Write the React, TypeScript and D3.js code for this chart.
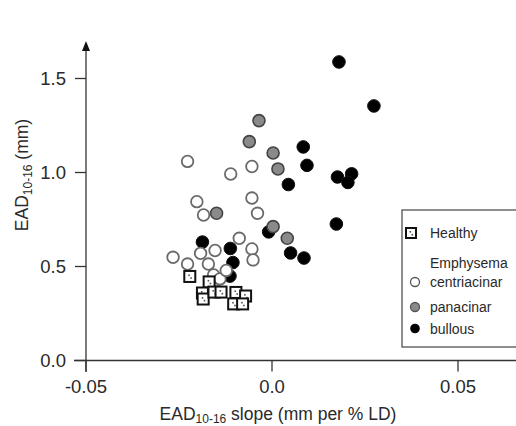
import React from "react";
import * as d3 from "d3";

const healthyX = [-0.0221, -0.0169, -0.0187, -0.0185, -0.0156, -0.0137, -0.0097, -0.0071, -0.0103, -0.0079];
const healthyY = [0.447, 0.418, 0.359, 0.327, 0.364, 0.364, 0.362, 0.343, 0.301, 0.301];

const centriX = [-0.0227, -0.0111, -0.0054, -0.0202, -0.0184, -0.0054, -0.0039, -0.0088, -0.0054, -0.0051, -0.0266, -0.0227, -0.0192, -0.0153, -0.0171, -0.0157, -0.014, -0.0123];
const centriY = [1.059, 0.992, 1.032, 0.845, 0.774, 0.864, 0.783, 0.65, 0.593, 0.535, 0.549, 0.513, 0.57, 0.585, 0.513, 0.455, 0.434, 0.479];

const panX = [-0.0035, -0.0061, 0.0003, 0.0016, -0.0149, 0.0003, 0.0041];
const panY = [1.276, 1.164, 1.104, 1.019, 0.783, 0.712, 0.65];

const bullX = [0.018, 0.0274, 0.0084, 0.0094, 0.0044, 0.0176, 0.0214, 0.0204, 0.0173, -0.0009, 0.005, 0.0086, -0.0187, -0.0112, -0.0105, -0.0113];
const bullY = [1.588, 1.354, 1.136, 1.038, 0.936, 0.976, 0.993, 0.947, 0.726, 0.684, 0.572, 0.545, 0.63, 0.596, 0.521, 0.449];

const xTicks = [-0.05, 0.0, 0.05];
const xTickLabels = ["-0.05", "0.0", "0.05"];
const yTicks = [0.0, 0.5, 1.0, 1.5];
const yTickLabels = ["0.0", "0.5", "1.0", "1.5"];

const legendLabels = ["Healthy", "Emphysema", "centriacinar", "panacinar", "bullous"];

const W = 516;
const H = 426;
const FONT = "'Liberation Sans', Arial, sans-serif";

export default function App() {
  const x = d3.scaleLinear().domain([-0.05, 0.05]).range([86, 458]);
  const y = d3.scaleLinear().domain([0, 1.5]).range([360.5, 78.5]);
  const x0 = x(-0.05);
  const y0 = y(0);
  const zip = (xs: number[], ys: number[]) => xs.map((v, i) => [v, ys[i]] as [number, number]);

  const axisColor = "#333";
  const textColor = "#2a2a2a";

  return (
    <svg width={W} height={H} style={{ position: "absolute", left: 0, top: 0, background: "#fff" }} fontFamily={FONT}>
      <rect x={0} y={0} width={W} height={H} fill="#fff" />
      {/* axes */}
      <line x1={x0} x2={x0} y1={46} y2={372} stroke={axisColor} strokeWidth={1.3} />
      <path d={`M${x0},41 L${x0 - 4},51 L${x0 + 4},51 Z`} fill="#111" />
      <line x1={74} x2={W} y1={y0} y2={y0} stroke={axisColor} strokeWidth={1.3} />
      {yTicks.map((t, i) => (
        <g key={"yt" + i}>
          <line x1={x0 - 11} x2={x0} y1={y(t)} y2={y(t)} stroke={axisColor} strokeWidth={1.3} />
          <text x={x0 - 20} y={y(t) + 6.6} textAnchor="end" fontSize={18.5} fill={textColor}>{yTickLabels[i]}</text>
        </g>
      ))}
      {xTicks.map((t, i) => (
        <g key={"xt" + i}>
          <line x1={x(t)} x2={x(t)} y1={y0} y2={y0 + 11} stroke={axisColor} strokeWidth={1.3} />
          <text x={x(t)} y={392.5} textAnchor="middle" fontSize={18.5} fill={textColor}>{xTickLabels[i]}</text>
        </g>
      ))}
      {/* axis titles */}
      <text x={278} y={419.5} textAnchor="middle" fontSize={17.5} fill={textColor}>
        EAD<tspan fontSize={12} dy={3.5}>10-16</tspan><tspan dy={-3.5}> slope (mm per % LD)</tspan>
      </text>
      <text transform={`translate(27.5,175) rotate(-90)`} textAnchor="middle" fontSize={17.5} fill={textColor}>
        EAD<tspan fontSize={12} dy={4}>10-16</tspan><tspan dy={-4}> (mm)</tspan>
      </text>

      {/* bullous */}
      {zip(bullX, bullY).map(([a, b], i) => (
        <circle key={"b" + i} cx={x(a)} cy={y(b)} r={6.3} fill="#000" stroke="#111" strokeWidth={1} />
      ))}
      {/* panacinar */}
      {zip(panX, panY).map(([a, b], i) => (
        <circle key={"p" + i} cx={x(a)} cy={y(b)} r={6} fill="#8a8a8a" stroke="#444" strokeWidth={1.6} />
      ))}
      {/* centriacinar */}
      {zip(centriX, centriY).map(([a, b], i) => (
        <circle key={"c" + i} cx={x(a)} cy={y(b)} r={5.8} fill="#fff" stroke="#6a6a6a" strokeWidth={1.8} />
      ))}
      {/* healthy */}
      {zip(healthyX, healthyY).map(([a, b], i) => (
        <g key={"h" + i}>
          <rect x={x(a) - 5.5} y={y(b) - 5.5} width={11} height={11} fill="#fff" stroke="#111" strokeWidth={2} />
          <rect x={x(a) - 1.5} y={y(b) - 2} width={1.6} height={1.6} fill="#555" />
          <rect x={x(a) + 0.5} y={y(b) + 0.8} width={1.6} height={1.6} fill="#555" />
        </g>
      ))}

      {/* legend */}
      <rect x={402} y={210} width={130} height={137} fill="#fff" stroke="#444" strokeWidth={1.2} />
      <rect x={406} y={228} width={10} height={10} fill="#fff" stroke="#111" strokeWidth={2} />
      <rect x={409.5} y={231} width={1.6} height={1.6} fill="#555" />
      <rect x={411.5} y={234} width={1.6} height={1.6} fill="#555" />
      <text x={430} y={238} fontSize={14} fill={textColor}>{legendLabels[0]}</text>
      <text x={430} y={268} fontSize={14} fill={textColor}>{legendLabels[1]}</text>
      <circle cx={415} cy={282} r={4.5} fill="#fff" stroke="#555" strokeWidth={1.3} />
      <text x={430} y={287} fontSize={14} fill={textColor}>{legendLabels[2]}</text>
      <circle cx={415} cy={307} r={4.5} fill="#8a8a8a" stroke="#555" strokeWidth={1.3} />
      <text x={430} y={312} fontSize={14} fill={textColor}>{legendLabels[3]}</text>
      <circle cx={415} cy={328.5} r={4.8} fill="#000" />
      <text x={430} y={333.5} fontSize={14} fill={textColor}>{legendLabels[4]}</text>
    </svg>
  );
}
